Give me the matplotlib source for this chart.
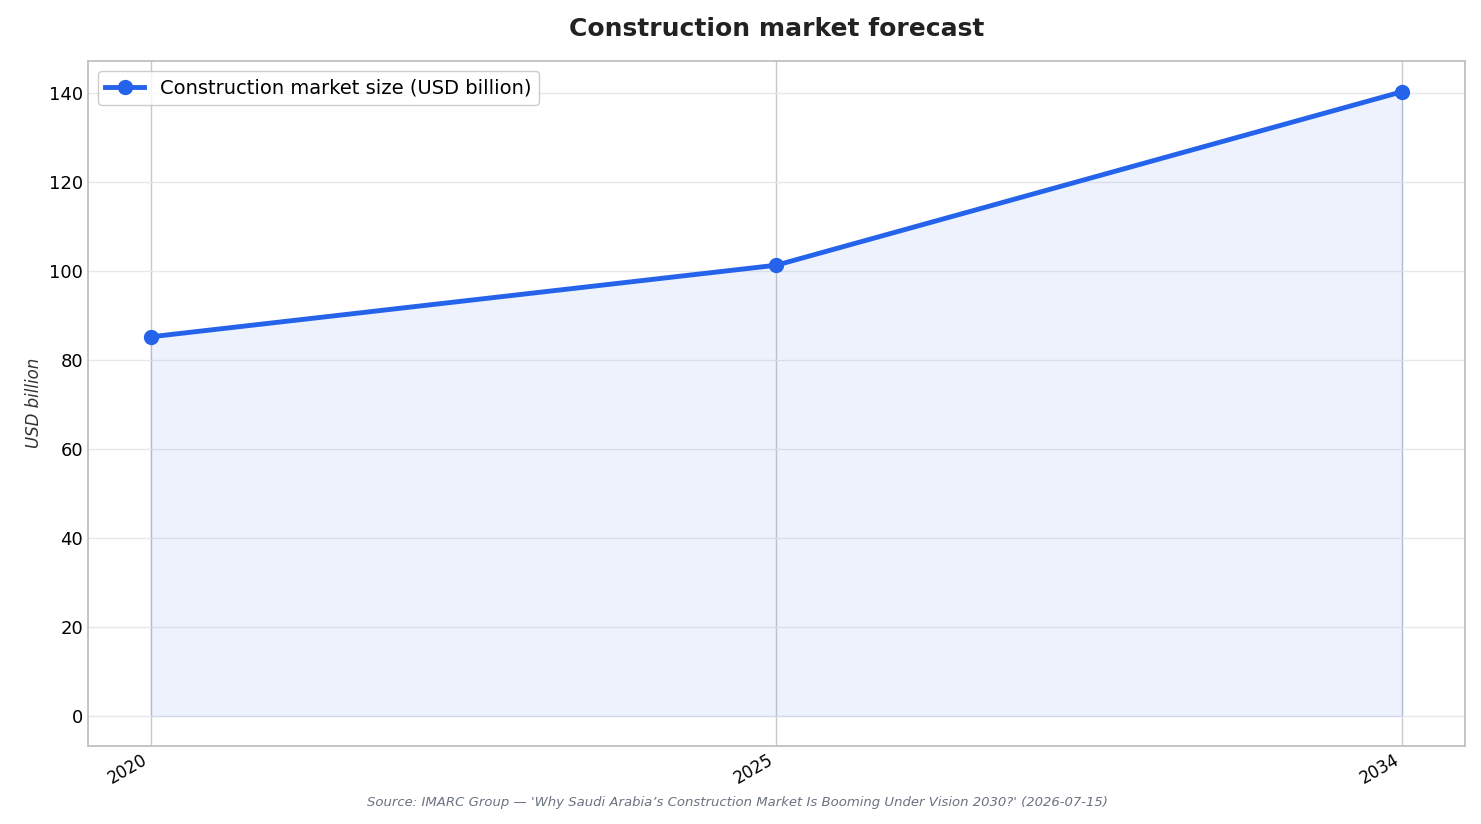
import matplotlib.pyplot as plt

# data
years = ["2020", "2025", "2034"]
market_size = [85.2, 101.3, 140.3]

fig, ax = plt.subplots(figsize=(14.81, 8.24), dpi=100)
fig.subplots_adjust(left=0.0594, right=0.989, top=0.926, bottom=0.095)

x = range(len(years))
ax.fill_between(x, market_size, 0, color="#2563eb", alpha=0.08, zorder=1)
ax.plot(x, market_size, color="#2563eb", lw=3.5, marker="o", ms=10,
        label="Construction market size (USD billion)", zorder=3)

ax.set_xlim(-0.1, 2.1)
ax.set_ylim(-6.7, 147.2)
ax.set_xticks(list(x))
ax.set_xticklabels(years, rotation=30, ha="right", fontsize=12)
ax.tick_params(axis="y", labelsize=13)
ax.tick_params(length=0)
ax.set_yticks(range(0, 141, 20))

ax.grid(axis="y", color="#e8e8ec", lw=1)
ax.grid(axis="x", color="#c8c8cc", lw=1)
ax.set_axisbelow(True)
for s in ax.spines.values():
    s.set_color("#c0c0c4")
    s.set_linewidth(1.3)

ax.set_ylabel("USD billion", style="italic", fontsize=12, color="#333333")
ax.set_title("Construction market forecast", fontsize=18, fontweight="bold",
             color="#222222", pad=18)
leg = ax.legend(loc="upper left", fontsize=14, frameon=True)
leg.get_frame().set_edgecolor("#c0c0c4")

fig.text(0.498, 0.022, "Source: IMARC Group — 'Why Saudi Arabia’s Construction Market Is Booming Under Vision 2030?' (2026-07-15)",
         ha="center", fontsize=9.5, style="italic", color="#6b7280")

fig.savefig("out.png", dpi=100)
